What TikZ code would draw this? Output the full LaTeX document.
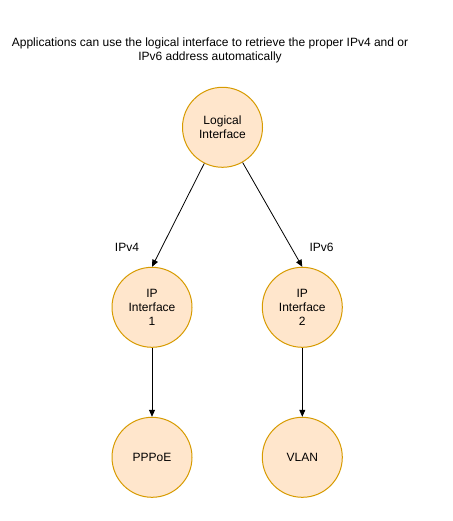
\documentclass[tikz,border=0pt]{standalone}
\usepackage{fontspec}
\setmainfont{Liberation Sans}
\usetikzlibrary{arrows.meta}
\definecolor{nodefill}{HTML}{FFE6CC}
\definecolor{nodedraw}{HTML}{D79B00}
\begin{document}
\begin{tikzpicture}[x=1pt,y=-1pt,
  circ/.style={circle,draw=nodedraw,fill=nodefill,line width=1pt,minimum size=80pt,inner sep=0pt,align=center,font=\fontsize{12}{14}\selectfont},
  conn/.style={draw=black,line width=0.8pt,-{Triangle[length=7pt,width=6pt]}},
  lbl/.style={font=\fontsize{12}{14}\selectfont,inner sep=0pt}]
\useasboundingbox (0,0) rectangle (452,521);
\node[lbl,align=center] (title) at (210,50.5) {Applications can use the logical interface to retrieve the proper IPv4 and or\\IPv6 address automatically};
\node[circ] (logical) at (222.5,127.3) {Logical\\Interface};
\node[circ] (ip1) at (152,307.3) {IP\\Interface\\1};
\node[circ] (ip2) at (302.3,307.3) {IP\\Interface\\2};
\node[circ] (pppoe) at (152,457.3) {PPPoE};
\node[circ] (vlan) at (302.3,457.3) {VLAN};
\draw[conn] (logical) -- (ip1.north);
\draw[conn] (logical) -- (ip2.north);
\draw[conn] (ip1) -- (pppoe);
\draw[conn] (ip2) -- (vlan);
\node[lbl] (ipv4) at (127,247) {IPv4};
\node[lbl] (ipv6) at (321.5,247) {IPv6};
\end{tikzpicture}
\end{document}
